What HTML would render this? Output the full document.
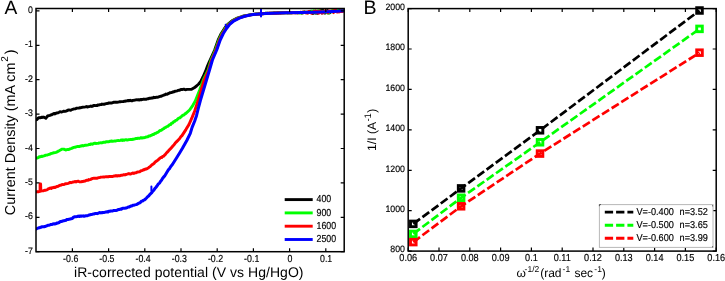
<!DOCTYPE html>
<html><head><meta charset="utf-8"><style>
html,body{margin:0;padding:0;background:#fff;}
body{width:725px;height:281px;overflow:hidden;}
svg{display:block;will-change:transform;}
text{font-family:"Liberation Sans",sans-serif;fill:#000;text-rendering:geometricPrecision;}
.tk{stroke:#000;stroke-width:0.15px;}
.tk{font-size:8.8px;}
.lab{font-size:14px;}
.laby{font-size:14.4px;}
.labb{font-size:12px;}
.labc{font-size:12.2px;}
.big{font-size:18.5px;fill:#000;}
</style></head><body>
<svg width="725" height="281" viewBox="0 0 725 281">
<text x="4.4" y="13.7" class="big" style="font-size:19.2px">A</text>
<defs><clipPath id="ca"><rect x="36.0" y="8.5" width="308.2" height="243.2"/></clipPath>
<clipPath id="cb"><rect x="403.2" y="3.6" width="318.0" height="252.5"/></clipPath></defs>
<g clip-path="url(#ca)" fill="none" stroke-width="2.95" stroke-linejoin="round" stroke-linecap="round">
<path d="M36.2,119.8 L36.9,119.6 L37.8,118.4 L38.7,117.8 L40.0,117.8 L41.3,117.3 L42.2,117.5 L43.1,117.1 L44.0,117.3 L45.8,118.2 L46.7,117.1 L47.6,116.0 L48.8,115.6 L49.9,115.3 L51.1,114.8 L52.0,114.7 L52.9,114.0 L53.8,113.6 L54.7,113.9 L55.6,113.4 L56.8,113.0 L57.9,112.9 L59.1,112.3 L60.0,111.8 L60.9,111.9 L61.8,111.9 L62.7,111.6 L63.8,111.2 L64.9,111.4 L66.0,111.1 L67.1,110.6 L68.0,110.1 L68.9,109.9 L69.8,110.1 L70.7,110.2 L71.6,109.7 L72.6,109.4 L73.6,109.0 L74.6,108.9 L75.6,108.7 L76.7,108.1 L77.8,108.1 L78.9,108.0 L80.0,107.8 L80.9,107.7 L81.8,107.4 L82.7,107.2 L83.6,107.1 L84.5,107.1 L85.5,106.9 L86.4,106.6 L87.3,107.0 L88.2,106.7 L89.1,106.6 L90.0,106.4 L90.9,106.0 L91.8,106.4 L92.7,106.2 L93.6,105.5 L94.5,105.5 L95.5,105.6 L96.4,105.4 L97.3,105.4 L98.2,104.9 L99.1,105.0 L100.0,104.6 L101.0,104.6 L102.0,104.1 L103.0,104.2 L104.1,104.2 L105.1,104.0 L106.1,103.6 L107.1,103.5 L108.1,103.4 L109.0,102.9 L110.0,102.9 L111.0,102.9 L112.0,102.9 L113.0,102.5 L114.0,102.2 L115.0,102.3 L116.0,102.1 L117.1,102.2 L118.2,102.1 L119.3,101.8 L120.4,101.8 L121.3,101.6 L122.2,101.6 L123.1,101.6 L124.0,101.3 L124.9,101.2 L126.0,101.0 L127.1,100.9 L128.2,100.5 L129.3,100.7 L130.2,100.3 L131.1,100.7 L132.0,100.8 L132.9,100.4 L133.8,100.3 L134.9,100.1 L136.0,99.8 L137.1,99.9 L138.2,99.7 L139.1,100.0 L140.0,99.8 L140.9,99.5 L141.8,99.7 L142.7,99.4 L143.8,99.1 L144.9,99.2 L146.0,99.3 L147.1,98.9 L148.0,98.8 L148.9,98.5 L149.8,98.2 L150.7,98.2 L151.6,98.0 L152.7,98.1 L153.8,97.3 L154.9,97.7 L156.0,97.3 L157.1,97.3 L158.2,97.1 L159.3,96.7 L160.4,96.3 L161.3,96.2 L162.2,95.7 L163.1,95.4 L164.0,95.0 L164.9,94.8 L166.0,94.1 L167.1,94.2 L168.2,93.6 L169.3,93.1 L170.2,92.6 L171.1,92.6 L172.0,92.3 L172.9,92.0 L173.8,91.8 L174.9,91.3 L176.0,91.1 L177.1,90.8 L178.2,90.4 L179.1,90.3 L180.0,90.0 L180.9,89.5 L181.8,89.4 L182.7,89.4 L183.8,89.2 L184.9,89.5 L186.0,89.7 L187.1,89.4 L191.6,89.3 L194.2,87.8 L196.5,86.0 L198.7,84.0 L200.8,81.4 L203.0,77.0 L205.5,71.4 L207.5,66.0 L209.2,62.0 L214.7,50.0 L218.2,40.0 L221.3,33.5 L224.5,28.5 L227.7,24.3 L232.0,20.8 L237.3,18.1 L242.7,16.3 L245.9,15.6 L251.0,14.6 L256.8,14.0 L257.8,14.1 L258.9,14.0 L259.9,14.0 L260.9,13.7 L261.9,13.9 L263.0,13.7 L264.0,13.6 L264.9,13.4 L265.9,13.3 L266.8,13.2 L267.8,13.5 L268.7,13.2 L269.7,13.1 L270.6,13.2 L271.6,13.2 L272.5,13.1 L273.5,12.9 L274.4,12.9 L275.4,13.1 L276.3,12.9 L277.3,12.9 L278.3,13.1 L279.2,12.9 L280.2,12.8 L281.1,12.9 L282.1,12.6 L283.0,12.8 L284.0,12.8 L284.9,12.8 L285.9,12.6 L286.8,12.6 L287.8,12.9 L288.7,12.7 L289.7,12.6 L290.6,12.8 L291.6,12.8 L292.5,12.5 L293.5,12.4 L294.4,12.5 L295.4,12.7 L296.3,12.5 L297.3,12.7 L298.2,12.6 L299.1,12.7 L300.0,12.6 L301.0,12.3 L301.9,13.0 L302.8,12.8 L303.7,12.5 L304.6,12.0 L305.6,12.6 L306.5,12.2 L307.4,12.5 L308.3,12.0 L309.2,12.5 L310.2,11.3 L311.1,11.8 L312.0,12.2 L312.9,13.4 L313.8,13.1 L314.8,11.6 L315.7,13.1 L316.6,11.5 L317.5,13.3 L318.4,12.7 L319.4,11.7 L320.3,11.2 L321.2,10.4 L322.1,13.0 L323.0,10.4 L324.0,12.7 L324.9,13.1 L325.8,11.7 L326.7,11.9 L327.6,10.6 L328.6,12.7 L329.5,12.9 L330.4,12.1 L331.3,11.4 L332.2,11.0 L333.2,10.9 L334.1,10.5 L335.0,11.2 L336.0,11.5 L337.1,10.9 L338.1,10.5 L339.1,10.3 L340.1,11.2 L341.2,10.6 L342.2,10.8" stroke="#000"/>
<path d="M36.2,158.0 L37.2,158.0 L38.3,157.7 L39.4,156.7 L40.4,156.7 L41.3,156.2 L42.2,156.5 L43.1,156.1 L44.0,155.9 L44.9,155.5 L46.0,155.1 L47.1,155.0 L48.2,154.7 L49.3,154.3 L50.2,154.1 L51.1,153.5 L52.0,153.4 L52.9,153.0 L53.8,152.8 L54.9,152.6 L56.0,152.3 L57.1,151.9 L58.2,151.2 L59.1,150.8 L60.0,150.3 L60.9,149.8 L61.8,149.2 L62.7,149.1 L63.8,149.1 L64.9,149.7 L66.0,150.0 L66.9,149.6 L67.9,149.4 L68.8,149.5 L69.7,149.0 L70.7,148.7 L71.6,148.4 L72.7,147.9 L73.8,147.4 L74.9,147.2 L76.0,147.0 L77.1,146.5 L78.2,146.5 L79.3,146.6 L80.4,146.0 L81.3,146.0 L82.2,145.5 L83.1,145.9 L84.0,145.6 L84.9,145.3 L86.0,145.2 L87.1,145.1 L88.2,144.8 L89.3,144.4 L90.2,144.4 L91.1,143.9 L92.0,144.2 L92.9,144.0 L93.8,143.5 L94.9,143.2 L96.0,143.5 L97.1,143.4 L98.2,143.2 L99.1,143.0 L100.0,142.9 L100.9,142.8 L101.8,142.9 L102.7,142.5 L103.8,142.3 L104.9,142.3 L106.0,141.8 L107.1,141.7 L108.0,141.8 L108.9,141.7 L109.8,141.3 L110.7,141.2 L111.6,141.0 L112.7,141.3 L113.8,141.1 L114.9,140.9 L116.0,140.9 L117.1,140.6 L118.2,140.5 L119.3,140.6 L120.4,140.3 L121.3,140.0 L122.2,140.4 L123.1,139.9 L124.0,140.3 L124.9,139.9 L126.0,139.7 L127.1,140.1 L128.2,139.8 L129.3,139.6 L130.2,139.5 L131.1,139.5 L132.0,139.5 L132.9,139.3 L133.8,139.2 L134.9,138.8 L136.0,138.5 L137.1,138.5 L138.2,138.2 L139.1,138.4 L140.0,138.1 L140.9,137.7 L141.8,138.1 L142.7,137.8 L143.8,137.7 L144.9,137.6 L146.0,136.9 L147.1,136.9 L148.0,136.7 L148.9,135.9 L149.8,136.0 L150.7,135.4 L151.6,135.2 L152.7,134.5 L153.8,134.5 L154.9,133.4 L156.0,133.2 L157.0,132.6 L158.1,132.2 L159.1,131.2 L160.1,130.5 L161.2,130.4 L162.2,129.5 L163.1,128.9 L164.0,128.6 L164.9,127.6 L165.8,127.3 L166.7,126.6 L167.6,126.4 L168.5,125.8 L169.5,124.8 L170.6,124.6 L171.6,123.2 L172.6,123.0 L173.7,121.7 L174.7,121.3 L175.7,120.4 L176.8,120.1 L177.8,118.9 L178.8,118.1 L179.9,117.8 L180.9,116.9 L181.9,116.1 L182.9,115.2 L183.9,115.1 L184.9,113.9 L185.9,113.4 L189.6,110.0 L192.7,105.6 L195.2,101.2 L196.5,98.0 L199.7,90.0 L203.3,80.0 L208.2,70.0 L211.1,60.0 L215.4,50.0 L218.9,40.0 L222.0,33.5 L225.2,28.5 L228.4,24.3 L232.7,20.8 L238.0,18.1 L243.4,16.3 L246.6,15.6 L251.7,14.6 L257.5,14.0 L258.5,13.7 L259.6,13.8 L260.6,13.9 L261.6,13.9 L262.6,13.5 L263.7,13.6 L264.7,13.6 L265.6,13.3 L266.6,13.5 L267.5,13.6 L268.5,13.5 L269.4,13.5 L270.4,13.4 L271.3,13.2 L272.3,13.3 L273.2,13.2 L274.2,13.1 L275.1,13.0 L276.1,13.1 L277.0,12.9 L278.0,12.8 L279.0,12.9 L279.9,13.1 L280.9,12.7 L281.8,12.9 L282.8,12.8 L283.7,12.8 L284.7,12.8 L285.6,12.6 L286.6,13.0 L287.5,12.6 L288.5,12.8 L289.4,12.7 L290.4,12.5 L291.3,12.7 L292.3,12.5 L293.2,12.5 L294.2,12.4 L295.1,12.5 L296.1,12.4 L297.0,12.7 L298.0,12.6 L298.9,12.6 L299.8,12.9 L300.7,12.9 L301.7,13.0 L302.6,12.2 L303.5,12.4 L304.4,12.1 L305.3,12.6 L306.3,12.6 L307.2,12.9 L308.1,12.8 L309.0,11.8 L309.9,12.1 L310.9,12.3 L311.8,11.0 L312.7,12.2 L313.6,10.8 L314.5,11.9 L315.5,10.9 L316.4,12.8 L317.3,11.2 L318.2,10.7 L319.1,10.9 L320.1,11.1 L321.0,11.0 L321.9,11.9 L322.8,11.7 L323.7,11.2 L324.7,12.2 L325.6,10.8 L326.5,11.7 L327.4,13.0 L328.3,13.1 L329.3,12.3 L330.2,11.3 L331.1,11.5 L332.0,11.7 L332.9,10.0 L333.9,11.1 L334.8,11.3 L335.7,11.2 L336.7,10.4 L337.8,10.3 L338.8,11.6 L339.8,10.8 L340.8,10.9 L341.9,11.5 L342.9,10.8" stroke="#00ff00"/>
<path d="M36.2,191.9 L37.5,191.6 L38.7,191.7 L40.1,191.3 L40.1,184.0 L40.6,184.0 L40.8,191.0 L42.3,190.9 L43.5,190.7 L44.6,190.3 L45.8,190.2 L46.7,189.9 L47.6,189.5 L48.5,188.7 L49.4,188.6 L50.3,188.0 L51.2,188.4 L52.1,187.8 L53.0,187.7 L54.0,187.2 L55.0,187.5 L56.0,186.9 L57.1,186.5 L58.2,186.3 L59.3,185.6 L60.4,185.2 L61.3,185.1 L62.2,184.5 L63.1,184.6 L64.0,184.5 L64.9,184.0 L66.0,183.7 L67.1,183.6 L68.2,183.3 L69.3,182.9 L70.2,182.4 L71.1,182.7 L72.0,182.4 L72.9,182.0 L73.8,182.0 L74.9,181.5 L76.0,181.9 L77.1,181.4 L78.2,181.2 L79.1,181.6 L80.0,181.9 L80.9,181.8 L82.7,181.5 L83.8,181.3 L84.9,181.1 L86.0,180.5 L87.1,180.2 L88.0,180.2 L88.9,179.6 L89.8,179.7 L90.7,179.4 L91.6,178.9 L92.7,178.4 L93.8,178.3 L94.9,178.2 L96.0,178.2 L97.1,178.3 L98.2,177.7 L99.3,177.6 L100.4,177.3 L101.3,177.1 L102.2,177.1 L103.1,177.0 L104.0,176.9 L104.9,176.9 L106.0,176.8 L107.1,176.7 L108.2,176.8 L109.3,176.4 L110.2,176.4 L111.1,176.5 L112.0,176.4 L112.9,176.4 L113.8,176.0 L114.9,176.0 L116.0,175.6 L117.1,176.0 L118.2,175.6 L119.1,175.8 L120.0,175.7 L120.9,175.3 L121.8,175.3 L122.7,175.1 L123.8,174.7 L124.9,174.9 L126.0,174.5 L127.1,174.2 L128.0,173.9 L128.9,173.6 L129.8,174.0 L130.7,174.0 L131.6,173.5 L132.7,173.0 L133.8,173.4 L134.9,172.9 L136.0,172.8 L136.9,172.2 L137.9,172.0 L138.8,171.9 L139.8,171.7 L140.8,170.7 L141.7,170.7 L142.6,170.4 L143.6,169.6 L144.6,169.7 L145.5,169.0 L146.4,169.0 L147.4,168.4 L148.3,168.0 L149.3,167.0 L150.2,166.6 L151.2,165.5 L152.2,164.6 L153.1,164.2 L154.1,163.4 L155.0,162.2 L155.9,161.5 L156.9,160.8 L157.9,160.1 L158.8,159.2 L159.8,158.3 L160.7,157.5 L161.7,157.5 L162.6,156.4 L163.6,156.2 L164.5,155.2 L165.4,154.4 L166.4,153.0 L167.3,152.1 L168.3,151.1 L169.2,150.1 L170.2,149.0 L171.2,147.9 L172.2,146.8 L173.1,145.7 L174.1,144.7 L175.1,143.3 L176.2,142.1 L177.4,140.9 L178.5,139.7 L179.7,138.5 L180.8,136.8 L182.0,135.6 L185.9,129.6 L189.0,124.5 L192.1,117.4 L194.6,111.2 L196.5,105.5 L198.3,100.0 L201.2,90.0 L204.2,80.0 L208.8,70.0 L211.7,60.0 L216.0,50.0 L219.5,40.0 L222.6,33.5 L225.8,28.5 L229.0,24.3 L233.3,20.8 L238.6,18.1 L244.0,16.3 L247.2,15.6 L252.3,14.6 L258.1,14.0 L259.1,13.8 L260.2,14.1 L261.2,13.8 L262.2,13.8 L263.2,13.5 L264.3,13.6 L265.3,13.6 L266.2,13.6 L267.2,13.3 L268.1,13.5 L269.1,13.4 L270.0,13.1 L271.0,13.3 L271.9,13.2 L272.9,13.2 L273.8,13.2 L274.8,13.0 L275.7,13.2 L276.7,13.2 L277.6,12.8 L278.6,12.8 L279.6,13.1 L280.5,13.2 L281.5,12.8 L282.4,12.9 L283.4,12.9 L284.3,12.7 L285.3,12.8 L286.2,12.7 L287.2,12.7 L288.1,12.7 L289.1,12.8 L290.0,12.6 L291.0,12.7 L291.9,12.8 L292.9,12.5 L293.8,12.7 L294.8,12.8 L295.7,12.6 L296.7,12.5 L297.6,12.8 L298.6,12.5 L299.5,12.6 L300.4,12.3 L301.3,12.5 L302.3,12.7 L303.2,12.0 L304.1,12.2 L305.0,12.2 L305.9,13.0 L306.9,12.3 L307.8,13.1 L308.7,11.6 L309.6,11.9 L310.5,12.6 L311.5,13.2 L312.4,12.1 L313.3,12.2 L314.2,11.4 L315.1,11.0 L316.1,12.2 L317.0,11.1 L317.9,13.0 L318.8,13.1 L319.7,11.0 L320.7,11.2 L321.6,12.9 L322.5,12.3 L323.4,12.8 L324.3,11.3 L325.3,10.6 L326.2,11.1 L327.1,11.7 L328.0,12.6 L328.9,10.9 L329.9,11.1 L330.8,11.2 L331.7,11.2 L332.6,11.1 L333.5,12.6 L334.5,10.4 L335.4,10.0 L336.3,11.2 L337.3,12.1 L338.4,11.8 L339.4,11.9 L340.4,10.9 L341.4,11.6 L342.5,11.5 L343.5,10.8" stroke="#ff0000"/>
<path d="M36.2,229.0 L37.2,228.5 L38.2,228.0 L39.3,227.8 L40.3,227.3 L41.3,227.2 L42.2,226.7 L43.1,226.7 L44.0,226.8 L44.9,226.5 L45.8,226.2 L46.7,225.8 L47.8,225.3 L48.8,225.3 L49.9,224.9 L50.9,224.5 L52.0,224.5 L53.1,223.9 L54.1,223.7 L55.2,223.9 L56.2,223.5 L57.3,223.0 L58.2,222.9 L59.1,222.5 L60.0,221.8 L60.9,221.5 L61.8,221.4 L62.7,221.0 L63.8,220.8 L64.8,220.6 L65.9,220.3 L66.9,219.4 L68.0,219.4 L69.1,219.2 L70.2,219.1 L71.2,218.7 L72.3,218.5 L73.3,217.4 L74.4,216.8 L76.0,216.7 L77.1,216.5 L78.2,216.1 L79.3,216.5 L80.4,216.0 L81.3,216.3 L82.2,216.0 L83.1,215.9 L84.0,216.3 L84.9,216.0 L86.0,215.8 L87.1,215.7 L88.2,215.4 L89.3,214.9 L90.2,214.7 L91.1,214.5 L92.0,214.4 L92.9,214.1 L93.8,214.0 L94.9,213.6 L96.0,213.5 L97.1,213.6 L98.2,213.2 L99.1,212.8 L100.0,212.6 L100.9,212.9 L101.8,212.6 L102.7,212.6 L103.8,212.4 L104.9,212.2 L106.0,211.9 L107.1,211.8 L108.0,212.0 L108.9,211.3 L109.8,211.3 L110.7,211.0 L111.6,211.0 L112.7,210.9 L113.8,210.5 L114.9,210.4 L116.0,210.4 L117.1,210.2 L118.2,209.6 L119.3,209.5 L120.4,209.1 L121.3,209.2 L122.2,208.5 L123.1,208.3 L124.0,208.2 L124.9,208.2 L126.0,208.1 L127.1,207.6 L128.2,207.0 L129.3,206.9 L130.2,206.4 L131.1,206.0 L132.0,205.9 L132.9,205.2 L133.8,205.2 L134.9,204.9 L136.0,204.6 L137.1,204.2 L138.2,203.4 L139.3,203.0 L140.3,202.6 L141.4,201.3 L142.5,201.1 L143.5,200.2 L144.5,199.9 L145.5,199.0 L146.5,198.0 L147.6,196.8 L148.6,196.1 L149.6,194.8 L150.7,193.6 L151.6,192.8 L152.6,191.4 L153.5,190.5 L154.7,188.8 L155.8,187.5 L157.0,186.0 L157.9,184.6 L158.8,183.6 L159.7,182.8 L160.6,181.2 L161.5,180.2 L162.5,178.5 L163.5,177.2 L164.5,176.2 L167.5,171.2 L168.5,169.6 L169.5,168.7 L170.4,167.1 L171.4,165.7 L172.4,164.5 L176.5,158.0 L179.6,153.0 L182.3,148.5 L186.8,140.5 L190.3,133.3 L192.1,127.4 L194.6,121.2 L196.5,115.7 L198.4,108.0 L200.5,100.0 L203.5,90.0 L206.5,80.0 L209.5,70.0 L212.4,60.0 L216.7,50.0 L220.2,40.0 L223.3,33.5 L226.5,28.5 L229.7,24.3 L234.0,20.8 L239.3,18.1 L244.7,16.3 L247.9,15.6 L253.0,14.6 L258.8,14.0 L266.0,13.6 L272.6,13.2 L286.0,12.8 L300.2,12.6 L314.0,12.2 L327.8,11.7 L337.0,11.2 L344.2,10.8" stroke="#0000ff" stroke-width="3.05"/>
<path d="M151.4,191 L151.4,186.4 M261,16.6 L261,8.3" stroke="#0000ff" stroke-width="2"/>
<path d="M226.2,29 L225.6,24.6" stroke="#0000ff" stroke-width="1.8"/>
</g>
<rect x="36.0" y="8.5" width="308.2" height="243.2" fill="none" stroke="#000" stroke-width="1.5"/>
<path d="M72.4,251.7 v-3.5 M72.4,8.5 v3.5 M108.6,251.7 v-3.5 M108.6,8.5 v3.5 M144.8,251.7 v-3.5 M144.8,8.5 v3.5 M181.0,251.7 v-3.5 M181.0,8.5 v3.5 M217.2,251.7 v-3.5 M217.2,8.5 v3.5 M253.4,251.7 v-3.5 M253.4,8.5 v3.5 M289.6,251.7 v-3.5 M289.6,8.5 v3.5 M325.8,251.7 v-3.5 M325.8,8.5 v3.5 M36.0,10.9 h3.5 M344.2,10.9 h-3.5 M36.0,45.3 h3.5 M344.2,45.3 h-3.5 M36.0,79.7 h3.5 M344.2,79.7 h-3.5 M36.0,114.1 h3.5 M344.2,114.1 h-3.5 M36.0,148.5 h3.5 M344.2,148.5 h-3.5 M36.0,182.9 h3.5 M344.2,182.9 h-3.5 M36.0,217.3 h3.5 M344.2,217.3 h-3.5 M36.0,251.7 h3.5 M344.2,251.7 h-3.5" stroke="#000" stroke-width="1.2" fill="none"/>
<text transform="translate(70.7,261.7) scale(1,1.15)" class="tk" text-anchor="middle">-0.6</text>
<text transform="translate(106.9,261.7) scale(1,1.15)" class="tk" text-anchor="middle">-0.5</text>
<text transform="translate(143.1,261.7) scale(1,1.15)" class="tk" text-anchor="middle">-0.4</text>
<text transform="translate(179.3,261.7) scale(1,1.15)" class="tk" text-anchor="middle">-0.3</text>
<text transform="translate(215.5,261.7) scale(1,1.15)" class="tk" text-anchor="middle">-0.2</text>
<text transform="translate(251.7,261.7) scale(1,1.15)" class="tk" text-anchor="middle">-0.1</text>
<text transform="translate(289.9,261.7) scale(1,1.15)" class="tk" text-anchor="middle">0</text>
<text transform="translate(326.1,261.7) scale(1,1.15)" class="tk" text-anchor="middle">0.1</text>
<text transform="translate(32.9,12.9) scale(1,1.08)" class="tk" text-anchor="end">0</text>
<text transform="translate(32.9,47.3) scale(1,1.08)" class="tk" text-anchor="end">-1</text>
<text transform="translate(32.9,81.7) scale(1,1.08)" class="tk" text-anchor="end">-2</text>
<text transform="translate(32.9,116.1) scale(1,1.08)" class="tk" text-anchor="end">-3</text>
<text transform="translate(32.9,150.5) scale(1,1.08)" class="tk" text-anchor="end">-4</text>
<text transform="translate(32.9,184.9) scale(1,1.08)" class="tk" text-anchor="end">-5</text>
<text transform="translate(32.9,219.3) scale(1,1.08)" class="tk" text-anchor="end">-6</text>
<text transform="translate(32.9,253.7) scale(1,1.08)" class="tk" text-anchor="end">-7</text>
<path d="M284.7,199.6 H312.7" stroke="#000" stroke-width="2.9"/>
<text transform="translate(316.5,202.2) scale(1,1.15)" class="tk">400</text>
<path d="M284.7,212.9 H312.7" stroke="#00ff00" stroke-width="2.9"/>
<text transform="translate(316.5,215.5) scale(1,1.15)" class="tk">900</text>
<path d="M284.7,226.2 H312.7" stroke="#ff0000" stroke-width="2.9"/>
<text transform="translate(316.5,228.8) scale(1,1.15)" class="tk">1600</text>
<path d="M284.7,239.5 H312.7" stroke="#0000ff" stroke-width="2.9"/>
<text transform="translate(316.5,242.1) scale(1,1.15)" class="tk">2500</text>
<text x="74.0" y="277" class="lab" textLength="229.5" lengthAdjust="spacing">iR-corrected potential (V vs Hg/HgO)</text>
<text transform="translate(14.6,215.2) rotate(-90)" class="laby">Current Density (mA cm<tspan dx="0.8" dy="-7" font-size="10">2</tspan><tspan dx="1.8" dy="7">)</tspan></text>
<text x="363.4" y="14.0" class="big" style="font-size:19.6px">B</text>
<g fill="none">
<path d="M413.3,223.9 L461.1,188.4 L540.0,130.3 L699.5,10.5" stroke="#000" stroke-width="2.7" stroke-dasharray="8.4,3"/>
<path d="M413.3,233.9 L461.1,197.8 L540.0,142.3 L699.5,28.9" stroke="#00ff00" stroke-width="2.7" stroke-dasharray="8.4,3"/>
<path d="M413.3,242.1 L461.1,206.3 L540.0,153.6 L699.5,52.7" stroke="#ff0000" stroke-width="2.7" stroke-dasharray="8.4,3"/>
<rect x="410.51" y="221.10" width="5.6" height="5.6" stroke="#000" stroke-width="2.9"/>
<rect x="458.31" y="185.59" width="5.6" height="5.6" stroke="#000" stroke-width="2.9"/>
<rect x="537.22" y="127.49" width="5.6" height="5.6" stroke="#000" stroke-width="2.9"/>
<rect x="696.71" y="7.70" width="5.6" height="5.6" stroke="#000" stroke-width="2.9"/>
<rect x="410.51" y="231.12" width="5.6" height="5.6" stroke="#00ff00" stroke-width="2.9"/>
<rect x="458.31" y="194.97" width="5.6" height="5.6" stroke="#00ff00" stroke-width="2.9"/>
<rect x="537.22" y="139.48" width="5.6" height="5.6" stroke="#00ff00" stroke-width="2.9"/>
<rect x="696.71" y="26.09" width="5.6" height="5.6" stroke="#00ff00" stroke-width="2.9"/>
<rect x="410.51" y="239.31" width="5.6" height="5.6" stroke="#ff0000" stroke-width="2.9"/>
<rect x="458.31" y="203.50" width="5.6" height="5.6" stroke="#ff0000" stroke-width="2.9"/>
<rect x="537.22" y="150.79" width="5.6" height="5.6" stroke="#ff0000" stroke-width="2.9"/>
<rect x="696.71" y="49.89" width="5.6" height="5.6" stroke="#ff0000" stroke-width="2.9"/>
</g>
<rect x="408.2" y="8.6" width="308.0" height="242.5" fill="none" stroke="#000" stroke-width="1.5"/>
<path d="M408.2,251.1 v-3.5 M408.2,8.6 v3.5 M439.0,251.1 v-3.5 M439.0,8.6 v3.5 M469.8,251.1 v-3.5 M469.8,8.6 v3.5 M500.6,251.1 v-3.5 M500.6,8.6 v3.5 M531.4,251.1 v-3.5 M531.4,8.6 v3.5 M562.2,251.1 v-3.5 M562.2,8.6 v3.5 M593.0,251.1 v-3.5 M593.0,8.6 v3.5 M623.8,251.1 v-3.5 M623.8,8.6 v3.5 M654.6,251.1 v-3.5 M654.6,8.6 v3.5 M685.4,251.1 v-3.5 M685.4,8.6 v3.5 M716.2,251.1 v-3.5 M716.2,8.6 v3.5 M408.2,251.1 h3.5 M716.2,251.1 h-3.5 M408.2,210.7 h3.5 M716.2,210.7 h-3.5 M408.2,170.3 h3.5 M716.2,170.3 h-3.5 M408.2,129.8 h3.5 M716.2,129.8 h-3.5 M408.2,89.4 h3.5 M716.2,89.4 h-3.5 M408.2,49.0 h3.5 M716.2,49.0 h-3.5 M408.2,8.6 h3.5 M716.2,8.6 h-3.5" stroke="#000" stroke-width="1.2" fill="none"/>
<text transform="translate(408.2,260.6) scale(1.04,1.15)" class="tk" text-anchor="middle">0.06</text>
<text transform="translate(439.0,260.6) scale(1.04,1.15)" class="tk" text-anchor="middle">0.07</text>
<text transform="translate(469.8,260.6) scale(1.04,1.15)" class="tk" text-anchor="middle">0.08</text>
<text transform="translate(500.6,260.6) scale(1.04,1.15)" class="tk" text-anchor="middle">0.09</text>
<text transform="translate(531.4,260.6) scale(1.04,1.15)" class="tk" text-anchor="middle">0.1</text>
<text transform="translate(562.2,260.6) scale(1.04,1.15)" class="tk" text-anchor="middle">0.11</text>
<text transform="translate(593.0,260.6) scale(1.04,1.15)" class="tk" text-anchor="middle">0.12</text>
<text transform="translate(623.8,260.6) scale(1.04,1.15)" class="tk" text-anchor="middle">0.13</text>
<text transform="translate(654.6,260.6) scale(1.04,1.15)" class="tk" text-anchor="middle">0.14</text>
<text transform="translate(685.4,260.6) scale(1.04,1.15)" class="tk" text-anchor="middle">0.15</text>
<text transform="translate(716.2,260.6) scale(1.04,1.15)" class="tk" text-anchor="middle">0.16</text>
<text transform="translate(405,252.3) scale(1,1.06)" class="tk" text-anchor="end">800</text>
<text transform="translate(405,211.9) scale(1,1.06)" class="tk" text-anchor="end">1000</text>
<text transform="translate(405,171.5) scale(1,1.06)" class="tk" text-anchor="end">1200</text>
<text transform="translate(405,131.0) scale(1,1.06)" class="tk" text-anchor="end">1400</text>
<text transform="translate(405,90.6) scale(1,1.06)" class="tk" text-anchor="end">1600</text>
<text transform="translate(405,50.2) scale(1,1.06)" class="tk" text-anchor="end">1800</text>
<text transform="translate(405,9.8) scale(1,1.06)" class="tk" text-anchor="end">2000</text>
<rect x="599.4" y="204.6" width="113.6" height="42.8" fill="#fff" stroke="#b8b8b8" stroke-width="1"/>
<path d="M599.4,204.6 h1.6 M599.4,204.6 v1.6 M712.6,205.2 v1.2 M712.6,246.2 v1.2" stroke="#555" stroke-width="1"/>
<path d="M604.8,212.1 H633.3" stroke="#000" stroke-width="2.9" stroke-dasharray="8.3,3"/>
<text transform="translate(636.5,215.0) scale(1.04,1.13)" class="tk">V=-0.400</text>
<text transform="translate(679.6,215.0) scale(1.04,1.13)" class="tk">n=3.52</text>
<path d="M604.8,225.2 H633.3" stroke="#00ff00" stroke-width="2.9" stroke-dasharray="8.3,3"/>
<text transform="translate(636.5,228.1) scale(1.04,1.13)" class="tk">V=-0.500</text>
<text transform="translate(679.6,228.1) scale(1.04,1.13)" class="tk">n=3.65</text>
<path d="M604.8,238.3 H633.3" stroke="#ff0000" stroke-width="2.9" stroke-dasharray="8.3,3"/>
<text transform="translate(636.5,241.2) scale(1.04,1.13)" class="tk">V=-0.600</text>
<text transform="translate(679.6,241.2) scale(1.04,1.13)" class="tk">n=3.99</text>
<text y="276.8" class="labb"><tspan x="516.6">&#969;</tspan><tspan x="524.6" y="272.3" font-size="8.5">-1/2</tspan><tspan x="540.2" y="276.8">(rad</tspan><tspan x="562.6" y="272.3" font-size="8.5">-1</tspan><tspan x="574.4" y="276.8">sec</tspan><tspan x="594.3" y="272.3" font-size="8.5">-1</tspan><tspan x="601.8" y="276.8">)</tspan></text>
<text transform="translate(375.6,151.0) rotate(-90)" class="labc">1/I (A<tspan dx="0.3" dy="-4.6" font-size="9.5">-1</tspan><tspan dx="0.3" dy="4.6">)</tspan></text>
</svg>
</body></html>
